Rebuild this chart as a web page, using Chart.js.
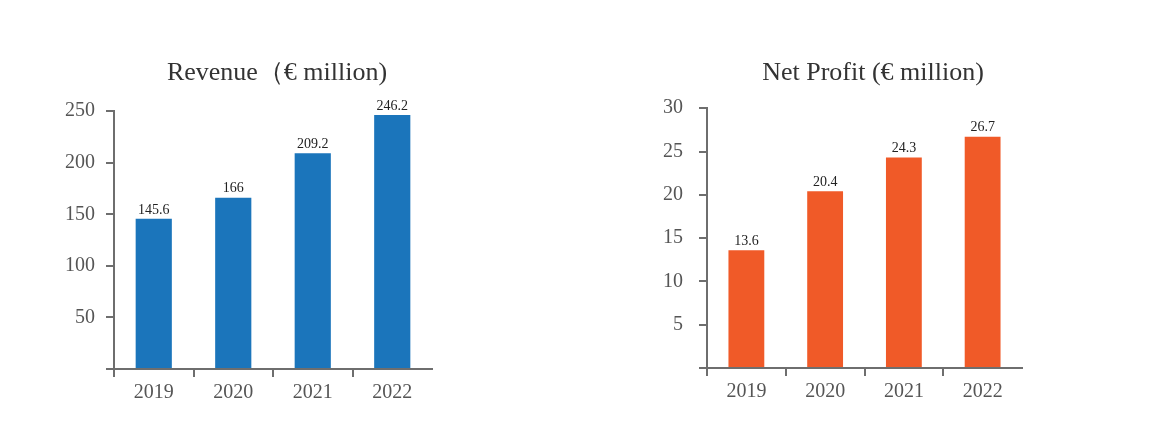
<!DOCTYPE html>
<html>
<head>
<meta charset="utf-8">
<script src="https://cdn.jsdelivr.net/npm/chart.js@4/dist/chart.umd.min.js"></script>
<style>
  html, body { margin: 0; padding: 0; background: #ffffff; }
  body { width: 1154px; height: 443px; position: relative; overflow: hidden; }
  canvas { position: absolute; top: 0; }
  #c1 { left: 0px; }
  #c2 { left: 600px; }
</style>
</head>
<body>
<canvas id="c1" width="554" height="443"></canvas>
<canvas id="c2" width="546" height="443"></canvas>
<script>
const categories = ['2019', '2020', '2021', '2022'];
const revenueValues = [145.6, 166, 209.2, 246.2];
const netProfitValues = [13.6, 20.4, 24.3, 26.7];
const revenueTitle = 'Revenue（€ million)';
const netProfitTitle = 'Net Profit (€ million)';
const revenueTicks = [0, 50, 100, 150, 200, 250];
const netProfitTicks = [0, 5, 10, 15, 20, 25, 30];

const SERIF = "'Liberation Serif', 'Times New Roman', serif";
const AXIS = '#6e6e6e';

const valueLabels = {
  id: 'valueLabels',
  afterDatasetsDraw(chart) {
    const ctx = chart.ctx;
    const ds = chart.data.datasets[0];
    const meta = chart.getDatasetMeta(0);
    ctx.save();
    ctx.font = '14px ' + SERIF;
    ctx.fillStyle = '#222';
    ctx.textAlign = 'center';
    ctx.textBaseline = 'bottom';
    meta.data.forEach((bar, i) => {
      ctx.fillText(String(ds.data[i]), bar.x, bar.y - 2);
    });
    ctx.restore();
  }
};

function makeChart(id, title, values, tickVals, color, cfg) {
  const maxV = tickVals[tickVals.length - 1];
  const step = tickVals[1] - tickVals[0];
  return new Chart(document.getElementById(id), {
    type: 'bar',
    data: {
      labels: categories,
      datasets: [{
        data: values,
        yAxisID: 'y',
        backgroundColor: color,
        borderWidth: 0,
        categoryPercentage: 1.0,
        barPercentage: 0.455
      }]
    },
    options: {
      responsive: false,
      animation: false,
      devicePixelRatio: 1,
      layout: { padding: 0 },
      plugins: {
        legend: { display: false },
        tooltip: { enabled: false },
        title: {
          display: true,
          text: title,
          color: '#333',
          font: { family: SERIF, size: 26, weight: 'normal', lineHeight: 1.2 },
          padding: { top: 58, bottom: cfg.titleBottom }
        }
      },
      scales: {
        x: {
          afterFit(s) { s.height = cfg.xHeight; },
          grid: {
            display: true,
            offset: true,
            drawOnChartArea: false,
            drawTicks: true,
            tickLength: 8,
            tickWidth: 2,
            lineWidth: 2,
            color: (c) => (c.type === 'tick' ? AXIS : 'rgba(0,0,0,0)')
          },
          border: { display: true, color: AXIS, width: 2 },
          ticks: {
            color: '#555',
            padding: 4,
            font: { family: SERIF, size: 20 }
          }
        },
        y: {
          min: 0,
          max: maxV,
          afterFit(s) { s.width = cfg.yWidth; },
          afterBuildTicks(s) { s.ticks = tickVals.map(v => ({ value: v })); },
          grid: {
            display: true,
            drawOnChartArea: false,
            drawTicks: true,
            tickLength: 8,
            tickWidth: 2,
            lineWidth: 2,
            color: AXIS
          },
          border: { display: true, color: AXIS, width: 2 },
          ticks: {
            stepSize: step,
            color: '#555',
            padding: cfg.yPad,
            font: { family: SERIF, size: 20 },
            callback: (v) => (v === 0 ? '' : String(v))
          }
        },
        spacer: {
          type: 'linear',
          position: 'right',
          display: true,
          afterFit(s) { s.width = cfg.rightSpace; },
          grid: { display: false },
          border: { display: false },
          ticks: { display: false }
        }
      }
    },
    plugins: [valueLabels]
  });
}

makeChart('c1', revenueTitle, revenueValues, revenueTicks, '#1b75bb',
  { rightSpace: 122, titleBottom: 22, xHeight: 74, yWidth: 114, yPad: 11 });
makeChart('c2', netProfitTitle, netProfitValues, netProfitTicks, '#f05a28',
  { rightSpace: 124, titleBottom: 19, xHeight: 75, yWidth: 107, yPad: 16 });
</script>
</body>
</html>
